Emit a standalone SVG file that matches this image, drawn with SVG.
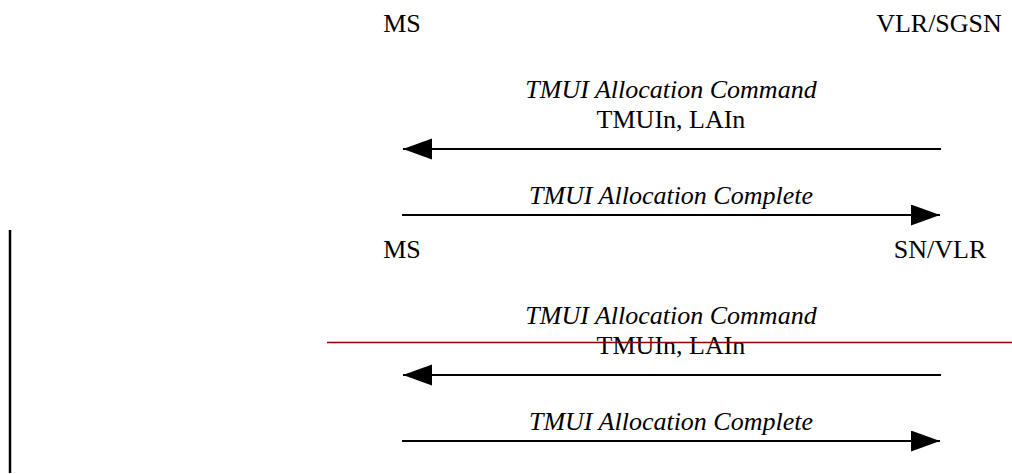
<svg xmlns="http://www.w3.org/2000/svg" width="1012" height="474" viewBox="0 0 1012 474">
  <defs>
    <style>
      .lbl { font-family: 'Liberation Serif', 'Times New Roman', Tinos, 'DejaVu Serif', serif; font-size: 26px; fill: #000; text-anchor: middle; }
      .msg { font-style: italic; }
      .arr { stroke: #000; stroke-width: 2; fill: none; }
    </style>
    <marker id="head" markerUnits="userSpaceOnUse" markerWidth="30" markerHeight="22" refX="29" refY="10.5" orient="auto">
      <path d="M0,0 L29,10.5 L0,21 Z" fill="#000"/>
    </marker>
  </defs>
  <rect width="1012" height="474" fill="#fff"/>

  <g id="flow1" font-family="Liberation Serif, Times New Roman, DejaVu Serif, serif">
    <g id="ms1"><text class="lbl" x="402" y="32">MS</text></g>
    <g id="vlr-sgsn"><text class="lbl" x="939" y="32">VLR/SGSN</text></g>
    <g id="cmd1-label">
      <text class="lbl msg" x="671" y="98">TMUI Allocation Command</text>
      <text class="lbl" x="671" y="128">TMUIn, LAIn</text>
    </g>
    <g id="cmp1-label"><text class="lbl msg" x="671" y="204">TMUI Allocation Complete</text></g>
  </g>

  <g id="flow2" font-family="Liberation Serif, Times New Roman, DejaVu Serif, serif">
    <g id="ms2"><text class="lbl" x="402" y="258">MS</text></g>
    <g id="sn-vlr"><text class="lbl" x="940" y="258">SN/VLR</text></g>
    <g id="cmd2-label">
      <text class="lbl msg" x="671" y="324">TMUI Allocation Command</text>
      <text class="lbl" x="671" y="354">TMUIn, LAIn</text>
    </g>
    <g id="cmp2-label"><text class="lbl msg" x="671" y="430">TMUI Allocation Complete</text></g>
  </g>

  <g id="connectors">
    <line class="arr" x1="941" y1="149" x2="403" y2="149" marker-end="url(#head)"/>
    <line class="arr" x1="402" y1="215" x2="940" y2="215" marker-end="url(#head)"/>
    <line class="arr" x1="941" y1="375" x2="403" y2="375" marker-end="url(#head)"/>
    <line class="arr" x1="402" y1="441" x2="940" y2="441" marker-end="url(#head)"/>
  </g>

  <g id="marks">
    <line x1="327" y1="342.5" x2="1012" y2="342.5" stroke="#8b0000" stroke-width="1.3"/>
    <line x1="10" y1="230" x2="10" y2="473" stroke="#000" stroke-width="2.5"/>
  </g>
</svg>
